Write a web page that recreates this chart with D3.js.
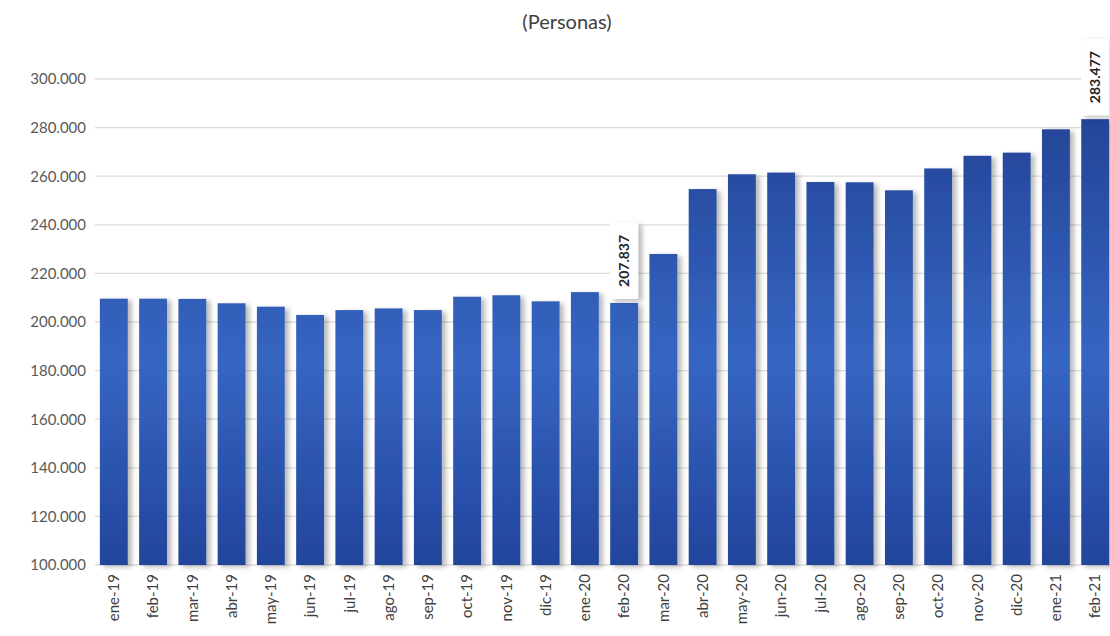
<!DOCTYPE html>
<html>
<head>
<meta charset="utf-8">
<script src="https://cdn.jsdelivr.net/npm/d3@7"></script>
<style>
  body { margin: 0; background: #fff; }
  text { font-family: Lato, "Open Sans", sans-serif; }
</style>
</head>
<body>
<div id="chart"></div>
<script>
// data
var months = ["ene-19", "feb-19", "mar-19", "abr-19", "may-19", "jun-19", "jul-19", "ago-19", "sep-19",
  "oct-19", "nov-19", "dic-19", "ene-20", "feb-20", "mar-20", "abr-20", "may-20", "jun-20", "jul-20",
  "ago-20", "sep-20", "oct-20", "nov-20", "dic-20", "ene-21", "feb-21"];
var personas = [209600, 209600, 209500, 207700, 206300, 202900, 204900, 205600, 204900,
  210400, 211000, 208500, 212300, 207837, 228000, 254700, 260800, 261500, 257600,
  257500, 254200, 263200, 268400, 269700, 279300, 283477];
var labelled = ["feb-20", "feb-21"];
var yTicks = [100000, 120000, 140000, 160000, 180000, 200000, 220000, 240000, 260000, 280000, 300000];

var w = 1110, h = 636;
var svg = d3.select("#chart").append("svg").attr("width", w).attr("height", h);

var fmt = function (v) { return d3.format(",")(v).replace(/,/g, "."); };
var fmtTick = function (v) { return d3.format(",.0f")(v).replace(/,/g, "."); };

var x = d3.scaleBand().domain(months).range([94, 1115]).paddingInner(0.29).paddingOuter(0.15);
var y = d3.scaleLinear().domain([100000, 300000]).range([565, 79]);

// gradient + shadow for bars
var defs = svg.append("defs");
var grad = defs.append("linearGradient").attr("id", "barGrad")
  .attr("gradientUnits", "userSpaceOnUse")
  .attr("x1", 0).attr("y1", 79).attr("x2", 0).attr("y2", 565);
grad.append("stop").attr("offset", "0%").attr("stop-color", "#213f90");
grad.append("stop").attr("offset", "58%").attr("stop-color", "#3566c2");
grad.append("stop").attr("offset", "100%").attr("stop-color", "#23449c");

var sh = defs.append("filter").attr("id", "shadow").attr("x", "-30%").attr("y", "-10%").attr("width", "180%").attr("height", "130%");
sh.append("feDropShadow").attr("dx", 4).attr("dy", 2).attr("stdDeviation", 2.5)
  .attr("flood-color", "#000").attr("flood-opacity", 0.28);

// title
svg.append("text").attr("x", 567).attr("y", 29).attr("text-anchor", "middle")
  .attr("font-size", 20).attr("fill", "#404040").text("(Personas)");

// gridlines
svg.append("g").selectAll("line").data(yTicks).enter().append("line")
  .attr("x1", 95).attr("x2", 1110)
  .attr("y1", function (d) { return y(d); }).attr("y2", function (d) { return y(d); })
  .attr("stroke", "#dcdcdc").attr("stroke-width", 1.3);

// y axis
var yAxis = svg.append("g").attr("transform", "translate(86,0)")
  .call(d3.axisLeft(y).tickValues(yTicks).tickFormat(fmtTick).tickSize(0).tickPadding(0));
yAxis.select(".domain").remove();
yAxis.selectAll("text").attr("font-size", 15).attr("fill", "#595959")
  .attr("font-family", "Lato, 'Open Sans', sans-serif");

// bars
svg.append("g").selectAll("rect").data(personas).enter().append("rect")
  .attr("x", function (d, i) { return x(months[i]); })
  .attr("y", function (d) { return y(d); })
  .attr("width", x.bandwidth())
  .attr("height", function (d) { return y(100000) - y(d); })
  .attr("fill", "url(#barGrad)")
  .attr("filter", "url(#shadow)");

// x axis labels
var xAxis = svg.append("g").attr("transform", "translate(0,565)")
  .call(d3.axisBottom(x).tickSize(0).tickPadding(0));
xAxis.select(".domain").remove();
xAxis.selectAll("text")
  .attr("transform", "rotate(-90)")
  .attr("x", -9).attr("y", 0).attr("dy", "0.35em")
  .attr("text-anchor", "end")
  .attr("font-size", 15).attr("fill", "#404040")
  .attr("font-family", "Lato, 'Open Sans', sans-serif");

// data labels in boxes
var lab = svg.append("g").selectAll("g").data(labelled).enter().append("g")
  .attr("transform", function (m) {
    var i = months.indexOf(m);
    return "translate(" + (x(m) + x.bandwidth() / 2) + "," + (y(personas[i]) - 4) + ")";
  });
lab.append("rect")
  .attr("x", -14).attr("y", -76).attr("width", 28).attr("height", 76)
  .attr("fill", "#fff").attr("filter", "url(#shadow)");
lab.append("text")
  .attr("transform", "translate(0,-38) rotate(-90)")
  .attr("x", 0).attr("y", 0).attr("dy", "0.35em")
  .attr("text-anchor", "middle")
  .attr("font-size", 14).attr("font-weight", "bold").attr("fill", "#262626")
  .text(function (m) { return fmt(personas[months.indexOf(m)]); });
</script>
</body>
</html>
